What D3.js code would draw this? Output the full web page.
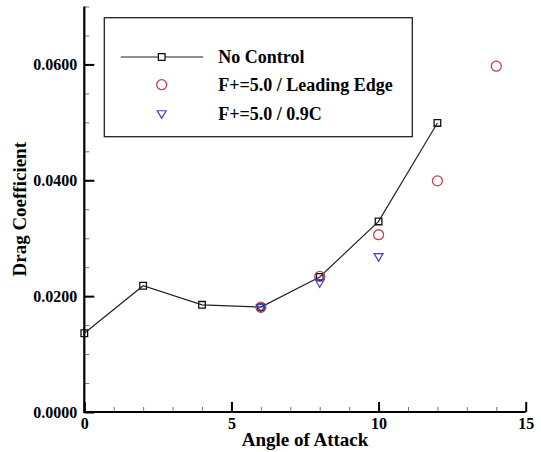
<!DOCTYPE html>
<html>
<head>
<meta charset="utf-8">
<script src="https://cdn.jsdelivr.net/npm/d3@7"></script>
<style>
  body { margin: 0; background: #fff; }
  svg text { font-family: "Liberation Serif", "Times New Roman", serif; font-weight: bold; fill: #000; }
</style>
</head>
<body>
<svg id="chart" width="541" height="452"></svg>
<script>
// angle of attack (deg) and drag coefficient for each case
const noControlAoa = [0, 2, 4, 6, 8, 10, 12];
const noControlCd = [0.0136, 0.0218, 0.0185, 0.0181, 0.0233, 0.0329, 0.0499];
const leadingEdgeAoa = [6, 8, 10, 12, 14];
const leadingEdgeCd = [0.0181, 0.0234, 0.0306, 0.0399, 0.0597];
const chordAoa = [6, 8, 10];
const chordCd = [0.0181, 0.0224, 0.0269];
const xTicks = [0, 5, 10, 15];
const yTicks = [0, 0.02, 0.04, 0.06];
const seriesNames = ["No Control", "F+=5.0 / Leading Edge", "F+=5.0 / 0.9C"];

const svg = d3.select("#chart");
const margin = {top: 6.5, right: 15.3, bottom: 40, left: 84.3};
const width = +svg.attr("width") - margin.left - margin.right;
const height = +svg.attr("height") - margin.top - margin.bottom;

const x = d3.scaleLinear().domain([0, 15]).range([0, width]);
const y = d3.scaleLinear().domain([0, 0.07]).range([height, 0]);

const g = svg.append("g")
  .attr("transform", "translate(" + margin.left + "," + margin.top + ")");

// minor ticks first, inward
g.append("g")
  .attr("transform", "translate(0," + height + ")")
  .call(d3.axisTop(x).tickValues(d3.range(0, 16, 1)).tickSize(5).tickFormat(""))
  .call(a => a.select(".domain").remove())
  .call(a => a.selectAll("line").attr("stroke", "#777").attr("stroke-width", 1));
g.append("g")
  .call(d3.axisRight(y).tickValues(d3.range(0, 0.0701, 0.005)).tickSize(5).tickFormat(""))
  .call(a => a.select(".domain").remove())
  .call(a => a.selectAll("line").attr("stroke", "#777").attr("stroke-width", 1));

// major ticks
const xAxis = g.append("g")
  .attr("transform", "translate(0," + height + ")")
  .call(d3.axisTop(x).tickValues(xTicks).tickSize(10).tickFormat(d3.format("d")));
xAxis.selectAll("text").attr("y", 6).attr("dy", "0.71em").attr("font-size", 16);

const yAxis = g.append("g")
  .call(d3.axisRight(y).tickValues(yTicks).tickSize(10).tickFormat(d3.format(".4f")));
yAxis.selectAll("text").attr("x", -7).attr("text-anchor", "end").attr("font-size", 16);

[xAxis, yAxis].forEach(a => {
  a.select(".domain").remove();
  a.selectAll("line").attr("stroke", "#000").attr("stroke-width", 2);
  a.selectAll("text").attr("font-family", "Liberation Serif").attr("font-weight", "bold");
});

// axis lines (left + bottom only)
g.append("path")
  .attr("d", "M0,0V" + height + "H" + width)
  .attr("fill", "none").attr("stroke", "#000").attr("stroke-width", 2.2);

// axis titles
svg.append("text")
  .attr("x", margin.left + width / 2).attr("y", 446)
  .attr("text-anchor", "middle").attr("font-size", 19)
  .text("Angle of Attack");
svg.append("text")
  .attr("transform", "translate(26," + (margin.top + height / 2) + ") rotate(-90)")
  .attr("text-anchor", "middle").attr("font-size", 19)
  .text("Drag Coefficient");

const square = d3.symbol().type(d3.symbolSquare).size(44);
const circle = d3.symbol().type(d3.symbolCircle).size(78);
const tri = d3.symbol().type(d3.symbolTriangle).size(34);
const red = "#c8404e", blue = "#3c3cd8";

// No Control
const nc = noControlAoa.map((a, i) => [a, noControlCd[i]]);
g.append("path").datum(nc)
  .attr("fill", "none").attr("stroke", "#222").attr("stroke-width", 1.2)
  .attr("d", d3.line().x(d => x(d[0])).y(d => y(d[1])));
g.selectAll(".sq").data(nc).enter().append("path")
  .attr("class", "sq").attr("d", square)
  .attr("transform", d => "translate(" + x(d[0]) + "," + y(d[1]) + ")")
  .attr("fill", "none").attr("stroke", "#111").attr("stroke-width", 1.3);

// Leading edge
g.selectAll(".le").data(leadingEdgeAoa.map((a, i) => [a, leadingEdgeCd[i]])).enter().append("path")
  .attr("class", "le").attr("d", circle)
  .attr("transform", d => "translate(" + x(d[0]) + "," + y(d[1]) + ")")
  .attr("fill", "none").attr("stroke", red).attr("stroke-width", 1.3);

// 0.9C
g.selectAll(".tc").data(chordAoa.map((a, i) => [a, chordCd[i]])).enter().append("path")
  .attr("class", "tc").attr("d", tri)
  .attr("transform", d => "translate(" + x(d[0]) + "," + y(d[1]) + ") rotate(180)")
  .attr("fill", "none").attr("stroke", blue).attr("stroke-width", 1.2);

// legend
const lg = svg.append("g");
lg.append("rect")
  .attr("x", 104.3).attr("y", 17.7).attr("width", 308).attr("height", 119)
  .attr("fill", "#fff").attr("stroke", "#222").attr("stroke-width", 1.3);
const rows = [57, 84.7, 113.3];
lg.append("line").attr("x1", 120.7).attr("x2", 203.3).attr("y1", rows[0]).attr("y2", rows[0])
  .attr("stroke", "#222").attr("stroke-width", 1.2);
lg.append("path").attr("d", square).attr("transform", "translate(161.7," + rows[0] + ")")
  .attr("fill", "#fff").attr("stroke", "#111").attr("stroke-width", 1.3);
lg.append("path").attr("d", circle).attr("transform", "translate(161.7," + rows[1] + ")")
  .attr("fill", "none").attr("stroke", red).attr("stroke-width", 1.3);
lg.append("path").attr("d", tri).attr("transform", "translate(161.7," + rows[2] + ") rotate(180)")
  .attr("fill", "none").attr("stroke", blue).attr("stroke-width", 1.2);
lg.selectAll(".lt").data(seriesNames).enter().append("text")
  .attr("class", "lt")
  .attr("x", 218.3).attr("y", (d, i) => rows[i] + 6.3)
  .attr("font-size", 18)
  .text(d => d);
</script>
</body>
</html>
